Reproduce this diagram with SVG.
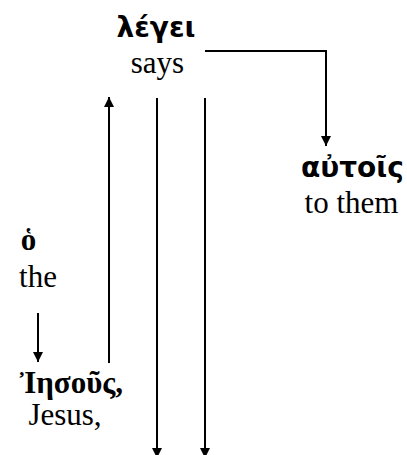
<svg xmlns="http://www.w3.org/2000/svg" width="407" height="455" viewBox="0 0 407 455">
  <style>
    .gk { font-family: "DejaVu Sans", sans-serif; font-weight: bold; font-size: 28px; fill: #000; }
    .gks { font-family: "Liberation Serif", "Times New Roman", serif; font-weight: bold; font-size: 31px; fill: #000; }
    .en { font-family: "Liberation Serif", "Times New Roman", serif; font-size: 31px; fill: #000; }
    .link { fill: none; stroke: #000; stroke-width: 2; }
  </style>
  <defs>
    <marker id="arrow" viewBox="0 0 10 10" refX="10" refY="5" markerWidth="10" markerHeight="10" markerUnits="userSpaceOnUse" orient="auto">
      <path d="M0,0 L10,5 L0,10 Z" fill="#000"/>
    </marker>
  </defs>
  <rect width="407" height="455" fill="#fff"/>

  <g id="legei">
    <text class="gk" x="156" y="37" text-anchor="middle">λέγει</text>
    <text class="en" x="157.5" y="73" text-anchor="middle">says</text>
  </g>
  <g id="autois">
    <text class="gk" x="352.5" y="177" text-anchor="middle">αὐτοῖς</text>
    <text class="en" x="351.5" y="213" text-anchor="middle">to them</text>
  </g>
  <g id="ho">
    <text class="gks" x="28.5" y="250" text-anchor="middle">ὁ</text>
    <text class="en" x="38" y="287" text-anchor="middle">the</text>
  </g>
  <g id="iesous">
    <text class="gks" x="71.5" y="393" text-anchor="middle">Ἰησοῦς,</text>
    <text class="en" x="65" y="425" text-anchor="middle">Jesus,</text>
  </g>

  <g id="connectors">
    <polyline class="link" points="205,51 326,51 326,146" marker-end="url(#arrow)"/>
    <line class="link" x1="109" y1="363" x2="109" y2="97" marker-end="url(#arrow)"/>
    <line class="link" x1="38" y1="313" x2="38" y2="362" marker-end="url(#arrow)"/>
    <line class="link" x1="157" y1="98" x2="157" y2="458" marker-end="url(#arrow)"/>
    <line class="link" x1="205" y1="98" x2="205" y2="458" marker-end="url(#arrow)"/>
  </g>
</svg>
